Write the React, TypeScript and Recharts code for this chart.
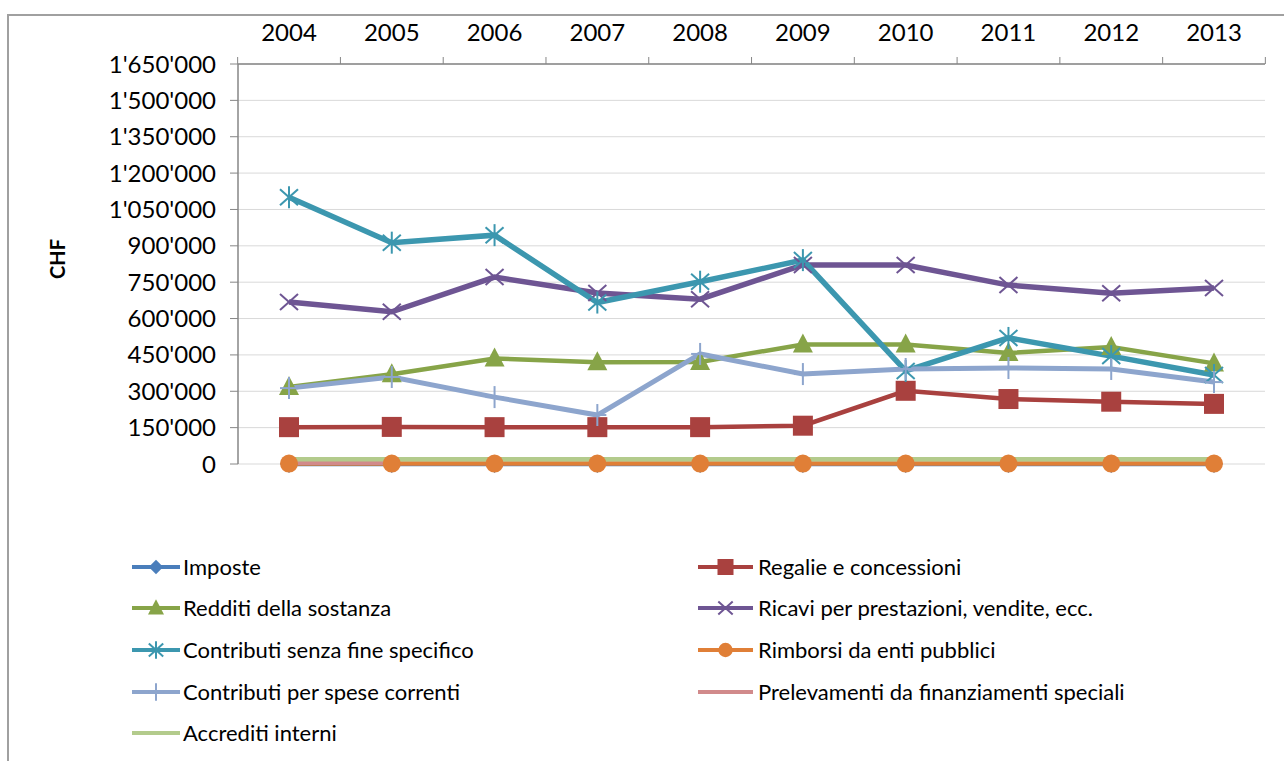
import React from 'react';
import { LineChart, Line, XAxis, YAxis, CartesianGrid, Legend } from 'recharts';

const years = ['2004', '2005', '2006', '2007', '2008', '2009', '2010', '2011', '2012', '2013'];

const imposte = [0, 0, 0, 0, 0, 0, 0, 0, 0, 0];
const regalie = [152000, 153000, 152000, 152000, 152000, 158000, 302000, 268000, 257000, 248000];
const redditi = [318000, 370000, 435000, 420000, 421000, 493000, 493000, 458000, 483000, 415000];
const ricavi = [668000, 628000, 771000, 705000, 680000, 821000, 821000, 738000, 704000, 726000];
const contributiSenza = [1100000, 913000, 944000, 666000, 752000, 841000, 384000, 520000, 445000, 367000];
const rimborsi = [2000, 2000, 2000, 2000, 2000, 2000, 2000, 2000, 2000, 2000];
const contributiSpese = [313000, 359000, 276000, 202000, 454000, 371000, 392000, 396000, 392000, 338000];
const prelevamenti = [5000, 5000, null, null, null, null, null, null, null, null];
const accrediti = [20000, 20000, 20000, 20000, 20000, 20000, 20000, 20000, 20000, 20000];

const yTicks = [0, 150000, 300000, 450000, 600000, 750000, 900000, 1050000, 1200000, 1350000, 1500000, 1650000];

const FONT = 'Lato, "Open Sans", sans-serif';

type Shape = 'diamond' | 'square' | 'triangle' | 'x' | 'star' | 'circle' | 'plus' | 'none';

const seriesList: { key: string; name: string; color: string; shape: Shape; width: number; values: (number | null)[] }[] = [
  { key: 'imposte', name: 'Imposte', color: '#4A7EBB', shape: 'diamond', width: 4.5, values: imposte },
  { key: 'regalie', name: 'Regalie e concessioni', color: '#A9413F', shape: 'square', width: 4.5, values: regalie },
  { key: 'redditi', name: 'Redditi della sostanza', color: '#87A448', shape: 'triangle', width: 4.5, values: redditi },
  { key: 'ricavi', name: 'Ricavi per prestazioni, vendite, ecc.', color: '#6E5593', shape: 'x', width: 5.5, values: ricavi },
  { key: 'senza', name: 'Contributi senza fine specifico', color: '#3C97AF', shape: 'star', width: 5.5, values: contributiSenza },
  { key: 'rimborsi', name: 'Rimborsi da enti pubblici', color: '#E07F37', shape: 'circle', width: 4.5, values: rimborsi },
  { key: 'spese', name: 'Contributi per spese correnti', color: '#8DA5CD', shape: 'plus', width: 5, values: contributiSpese },
  { key: 'prelevamenti', name: 'Prelevamenti da finanziamenti speciali', color: '#D18A8B', shape: 'none', width: 4.5, values: prelevamenti },
  { key: 'accrediti', name: 'Accrediti interni', color: '#B3CB8C', shape: 'none', width: 4.5, values: accrediti },
];

const data = years.map((year, i) => {
  const row: Record<string, string | number | null> = { year };
  seriesList.forEach((s) => {
    row[s.key] = s.values[i];
  });
  return row;
});

const formatCHF = (v: number) => String(v).replace(/\B(?=(\d{3})+(?!\d))/g, "'");

function Marker({ shape, color, cx, cy, s = 1 }: { shape: Shape; color: string; cx: number; cy: number; s?: number }) {
  switch (shape) {
    case 'diamond':
      return <polygon points={`${cx},${cy - 9 * s} ${cx + 9 * s},${cy} ${cx},${cy + 9 * s} ${cx - 9 * s},${cy}`} fill={color} />;
    case 'square':
      return <rect x={cx - 10 * s} y={cy - 10 * s} width={20 * s} height={20 * s} fill={color} />;
    case 'triangle':
      return <polygon points={`${cx},${cy - 11 * s} ${cx + 10 * s},${cy + 8 * s} ${cx - 10 * s},${cy + 8 * s}`} fill={color} />;
    case 'x':
      return (
        <g stroke={color} strokeWidth={2}>
          <line x1={cx - 9 * s} y1={cy - 8 * s} x2={cx + 9 * s} y2={cy + 8 * s} />
          <line x1={cx - 9 * s} y1={cy + 8 * s} x2={cx + 9 * s} y2={cy - 8 * s} />
        </g>
      );
    case 'star':
      return (
        <g stroke={color} strokeWidth={2}>
          <line x1={cx - 9 * s} y1={cy - 8 * s} x2={cx + 9 * s} y2={cy + 8 * s} />
          <line x1={cx - 9 * s} y1={cy + 8 * s} x2={cx + 9 * s} y2={cy - 8 * s} />
          <line x1={cx} y1={cy - 11 * s} x2={cx} y2={cy + 11 * s} />
        </g>
      );
    case 'circle':
      return <circle cx={cx} cy={cy} r={9 * s} fill={color} />;
    case 'plus':
      return (
        <g stroke={color} strokeWidth={2}>
          <line x1={cx} y1={cy - 11 * s} x2={cx} y2={cy + 11 * s} />
          <line x1={cx - 9 * s} y1={cy} x2={cx + 9 * s} y2={cy} />
        </g>
      );
    default:
      return null;
  }
}

const makeDot = (shape: Shape, color: string) => (props: any) => {
  const { cx, cy, index, value } = props;
  if (shape === 'none' || cx == null || cy == null || value == null) return <g key={`d${index}`} />;
  return (
    <g key={`d${index}`}>
      <Marker shape={shape} color={color} cx={cx} cy={cy} />
    </g>
  );
};

const HALF_BAND = 51.35;

const XTick = (props: any) => {
  const { x, y, payload, index, visibleTicksCount } = props;
  const lineY = y + 8;
  return (
    <g>
      <line x1={x - HALF_BAND} y1={lineY - 7} x2={x - HALF_BAND} y2={lineY} stroke="#868686" />
      {index === visibleTicksCount - 1 && (
        <line x1={x + HALF_BAND} y1={lineY - 7} x2={x + HALF_BAND} y2={lineY} stroke="#868686" />
      )}
      <text x={x} y={lineY - 23} textAnchor="middle" fontSize={24} fontFamily={FONT} fill="#000">
        {payload.value}
      </text>
    </g>
  );
};

const leftCol = ['imposte', 'redditi', 'senza', 'spese', 'accrediti'];
const rightCol = ['regalie', 'ricavi', 'rimborsi', 'prelevamenti'];
const rowY = [27, 68, 110, 152, 193];

const LegendContent = () => {
  const item = (key: string, row: number, iconX: number, iconW: number, textX: number) => {
    const s = seriesList.find((d) => d.key === key)!;
    return (
      <div key={key} style={{ position: 'absolute', left: 0, top: rowY[row] - 15, height: 30, width: 1284 }}>
        <svg style={{ position: 'absolute', left: iconX, top: 0 }} width={iconW} height={30}>
          <line x1={0} y1={15} x2={iconW} y2={15} stroke={s.color} strokeWidth={4} />
          <Marker shape={s.shape} color={s.color} cx={iconW / 2} cy={15} s={0.8} />
        </svg>
        <span
          style={{
            position: 'absolute',
            left: textX,
            top: 0,
            lineHeight: '30px',
            fontSize: 22,
            fontFamily: FONT,
            color: '#000',
            whiteSpace: 'nowrap',
          }}
        >
          {s.name}
        </span>
      </div>
    );
  };
  return (
    <div style={{ position: 'relative', width: 1284, height: 215 }}>
      {leftCol.map((k, i) => item(k, i, 132, 48, 183))}
      {rightCol.map((k, i) => item(k, i, 698, 55, 758))}
    </div>
  );
};

export default function App() {
  return (
    <div style={{ position: 'absolute', left: 0, top: 0, width: 1284, height: 761, background: '#fff', overflow: 'hidden' }}>
      <div
        style={{
          position: 'absolute',
          left: 7,
          top: 14,
          width: 1300,
          height: 800,
          border: '2px solid #A0A0A0',
        }}
      />
      <div style={{ position: 'absolute', left: 0, top: 0 }}>
        <LineChart width={1284} height={761} data={data} margin={{ top: 14, right: 19, left: 0, bottom: 297 }}>
          <CartesianGrid vertical={false} stroke="#D9D9D9" />
          <XAxis
            dataKey="year"
            orientation="top"
            height={50}
            padding={{ left: 51, right: 51 }}
            axisLine={{ stroke: '#868686', strokeWidth: 1.5 }}
            tickLine={false}
            tickSize={8}
            tickMargin={0}
            interval={0}
            tick={<XTick />}
          />
          <YAxis
            width={238}
            domain={[0, 1650000]}
            ticks={yTicks}
            interval={0}
            tickFormatter={formatCHF}
            axisLine={{ stroke: '#868686', strokeWidth: 1.5 }}
            tickLine={{ stroke: '#868686' }}
            tickSize={8}
            tickMargin={14}
            tick={{ fontSize: 24, fontFamily: FONT, fill: '#000' }}
            label={{
              content: (p: any) => {
                const vb = p.viewBox;
                const cx = vb.x + 57;
                const cy = vb.y + vb.height / 2 - 5;
                return (
                  <text
                    x={cx}
                    y={cy}
                    transform={`rotate(-90 ${cx} ${cy})`}
                    textAnchor="middle"
                    dominantBaseline="central"
                    fontSize={20}
                    fontWeight="bold"
                    fontFamily={FONT}
                    fill="#000"
                  >
                    CHF
                  </text>
                );
              },
            }}
          />
          {seriesList.map((s) => (
            <Line
              key={s.key}
              type="linear"
              dataKey={s.key}
              name={s.name}
              stroke={s.color}
              strokeWidth={s.width}
              dot={makeDot(s.shape, s.color)}
              activeDot={false}
              isAnimationActive={false}
            />
          ))}
          <Legend
            layout="horizontal"
            verticalAlign="middle"
            align="center"
            wrapperStyle={{ left: 0, top: 540, width: 1284, height: 215 }}
            content={<LegendContent />}
          />
        </LineChart>
      </div>
    </div>
  );
}
